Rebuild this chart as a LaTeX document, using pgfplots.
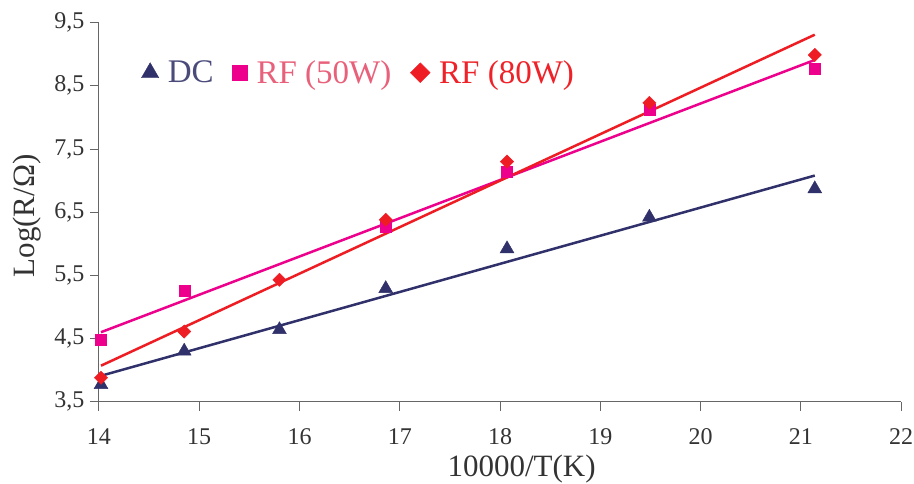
\documentclass[border=0pt]{standalone}
\usepackage{fontspec}
\setmainfont{Liberation Serif}
\usepackage{pgfplots}
\pgfplotsset{compat=1.18}
\definecolor{dcc}{HTML}{30306A}
\definecolor{rfa}{HTML}{EC008C}
\definecolor{rfb}{HTML}{EE1D24}
\definecolor{dct}{HTML}{4B4B7B}
\definecolor{rfat}{HTML}{E8607A}
\definecolor{rfbt}{HTML}{EE2228}
\definecolor{axc}{HTML}{666666}
\definecolor{txc}{HTML}{333333}
\begin{document}
\begin{tikzpicture}
\begin{axis}[
  scale only axis, width=802pt, height=379pt,
  xmin=14, xmax=22, ymin=3.5, ymax=9.5,
  axis x line=bottom, axis y line=left,
  axis line style={-, axc, line width=1pt},
  xtick={14,...,22}, ytick={3.5,4.5,...,9.5},
  tick align=outside, major tick length=9pt,
  tick style={axc, line width=1pt},
  /pgf/number format/assume math mode=true,
  y tick label style={/pgf/number format/use comma, /pgf/number format/fixed, /pgf/number format/fixed zerofill, /pgf/number format/precision=1, xshift=-2pt},
  ticklabel style={font=\fontsize{24}{28}\selectfont, text=txc},
  x tick label style={yshift=-14pt},
  xlabel={10000/T(K)}, ylabel={Log(R/Ω)},
  label style={font=\fontsize{31}{36}\selectfont, text=txc},
  xlabel style={at={(axis description cs:0.527,0)}, anchor=north, yshift=-50pt},
  ylabel style={at={(axis description cs:0,0.49)}, anchor=south, yshift=54pt},
  legend columns=3,
  legend style={draw=none, fill=none, at={(0.049,0.868)}, anchor=west,
    font=\fontsize{33}{38}\selectfont,
    /tikz/every odd column/.append style={column sep=7pt},
    /tikz/every even column/.append style={column sep=17pt}},
  legend cell align=left,
]
\addlegendimage{only marks, mark=triangle*, mark size=10pt, color=dcc}
\addlegendentry{\textcolor{dct}{DC}}
\addlegendimage{only marks, mark=square*, mark size=7.5pt, color=rfa}
\addlegendentry{\textcolor{rfat}{RF (50W)}}
\addlegendimage{only marks, mark=square*, mark size=7pt, mark options={rotate=45}, color=rfb}
\addlegendentry{\textcolor{rfbt}{RF (80W)}}
\addplot[only marks, mark=triangle*, mark size=8pt, color=dcc, forget plot] coordinates {
 (14.02,3.77) (14.85,4.30) (15.80,4.64) (16.86,5.29) (18.07,5.92) (19.49,6.42) (21.14,6.87)};
\addplot[only marks, mark=square*, mark size=5.5pt, color=rfa, forget plot] coordinates {
 (14.02,4.48) (14.85,5.26) (16.86,6.27) (18.07,7.14) (19.49,8.13) (21.14,8.77)};
\addplot[only marks, mark=square*, mark size=4.7pt, mark options={rotate=45}, color=rfb, forget plot] coordinates {
 (14.02,3.88) (14.85,4.61) (15.80,5.43) (16.86,6.38) (18.07,7.30) (19.49,8.23) (21.14,8.99)};
\addplot[dcc, line width=2.5pt, forget plot] coordinates {(14.02,3.91) (21.14,7.08)};
\addplot[rfa, line width=2.5pt, forget plot] coordinates {(14.02,4.60) (21.14,8.91)};
\addplot[rfb, line width=2.5pt, forget plot] coordinates {(14.02,4.07) (21.14,9.31)};
\end{axis}
\pgfresetboundingbox
\path ([xshift=-99pt,yshift=-82pt]current axis.south west) rectangle ([xshift=13pt,yshift=22.7pt]current axis.north east);
\end{tikzpicture}
\end{document}
